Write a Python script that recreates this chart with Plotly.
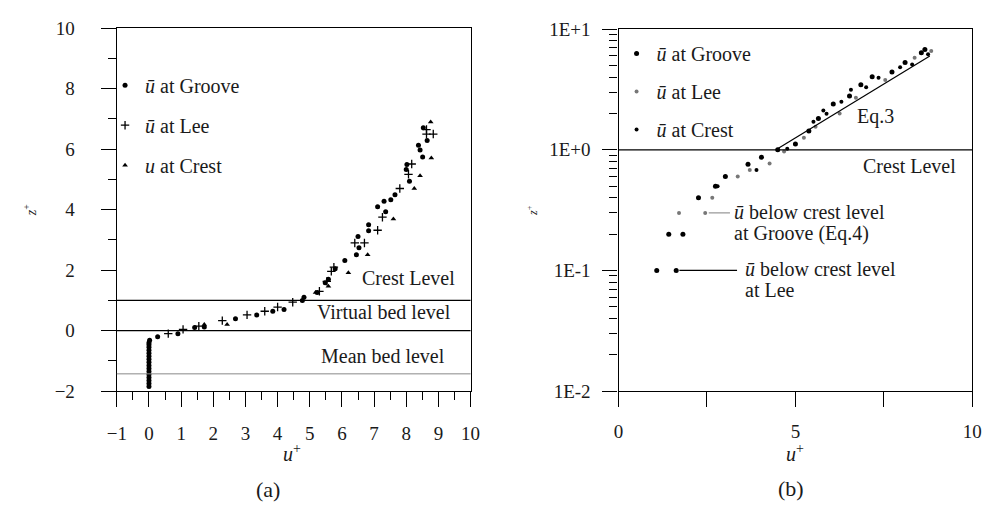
import plotly.graph_objects as go

# ---------------- data: panel (a) ----------------
a_groove_x = [0, 0, 0, 0, 0, 0, 0, 0, 0, 0, 0, 0, 0, 0, 0, 0, 0.02,
              0.27, 0.9, 1.42, 1.72, 2.69, 3.35, 3.85, 4.2, 4.77, 4.82, 5.23, 5.48, 5.58,
              5.79, 6.09, 6.45, 6.5, 6.53, 6.83, 6.83, 7.11, 7.31, 7.36, 7.52, 7.65,
              8.02, 8.0, 8.1, 8.38, 8.43, 8.53, 8.65, 8.51]
a_groove_y = [-1.85, -1.75, -1.65, -1.55, -1.45, -1.35, -1.25, -1.15, -1.05, -0.95, -0.85,
              -0.75, -0.65, -0.55, -0.47, -0.4, -0.32,
              -0.2, -0.1, 0.1, 0.12, 0.39, 0.52, 0.64, 0.7, 1.0, 1.1, 1.26, 1.58, 1.7,
              2.05, 2.32, 2.51, 3.11, 2.74, 3.5, 3.3, 4.1, 4.28, 3.93, 4.33, 4.49,
              5.49, 5.33, 4.94, 6.13, 5.97, 6.71, 6.29, 5.74]
a_lee_x = [0.6, 1.06, 1.55, 2.28, 3.05, 3.6, 4.0, 4.47, 5.3, 5.53, 5.67, 5.75, 6.4, 6.7,
           7.26, 7.11, 7.8, 8.07, 8.17, 8.63, 8.63, 8.84]
a_lee_y = [-0.1, 0.04, 0.15, 0.33, 0.52, 0.64, 0.78, 0.94, 1.3, 1.63, 1.96, 2.1, 2.9, 2.9,
           3.75, 3.32, 4.7, 5.17, 5.51, 6.65, 6.5, 6.5]
a_crest_x = [1.72, 2.43, 5.18, 5.58, 6.2, 6.8, 7.6, 8.25, 8.43, 8.78, 8.76]
a_crest_y = [0.2, 0.2, 1.26, 1.47, 1.91, 2.51, 3.69, 4.7, 5.12, 5.71, 6.9]

a_levels = [1.0, 0.0, -1.43]          # crest, virtual bed, mean bed
a_level_names = ["Crest Level", "Virtual bed level", "Mean bed level"]

# ---------------- data: panel (b) ----------------
b_groove_x = [1.08, 1.63, 1.42, 1.82, 2.26, 2.74, 3.02, 3.66, 4.04, 4.5, 5.0, 5.38, 5.65,
              6.07, 6.53, 6.85, 7.17, 7.73, 8.1, 8.56, 8.66]
b_groove_y = [0.1, 0.1, 0.2, 0.2, 0.4, 0.5, 0.6, 0.76, 0.87, 1.0, 1.12, 1.43, 1.82,
              2.4, 2.79, 3.46, 4.03, 4.42, 5.3, 6.37, 6.8]
b_lee_x = [1.71, 2.45, 2.65, 3.37, 3.71, 4.27, 4.68, 5.24, 5.57, 6.25, 6.71, 7.54, 8.37, 8.84]
b_lee_y = [0.3, 0.3, 0.4, 0.6, 0.68, 0.77, 0.97, 1.26, 1.55, 2.0, 2.7, 3.79, 5.8, 6.6]
b_crest_x = [2.8, 3.9, 4.77, 5.51, 5.88, 5.79, 6.57, 7.35, 7.96, 8.3, 8.75, 7.0, 6.3]
b_crest_y = [0.5, 0.68, 1.02, 1.71, 1.99, 2.12, 3.15, 3.95, 4.84, 5.1, 6.2, 3.3, 2.5]

eq3_x = [4.45, 8.8]
eq3_y = [1.0, 6.0]
lee_leader_x = [1.72, 3.35]
lee_leader_y = [0.1, 0.1]
groove_leader_x = [2.55, 3.15]
groove_leader_y = [0.3, 0.3]

b_decades = [0.01, 0.1, 1, 10]
b_decade_labels = ["1E-2", "1E-1", "1E+0", "1E+1"]
b_xticks = [0, 5, 10]
b_xlabels = ["0", "5", "10"]
b_xminor = [2.5, 7.5]

FONT = "'Liberation Serif', 'Times New Roman', Times, serif"
W, H = 996, 524
TXT = "#1a1a1a"

fig = go.Figure()

def sc(x, y, name, symbol, size, color, xa, ya, leg, grp, lw=0):
    fig.add_trace(go.Scatter(
        x=x, y=y, mode="markers", name=name, xaxis=xa, yaxis=ya,
        legend=leg, legendgroup=grp,
        marker=dict(symbol=symbol, size=size, color=color,
                    line=dict(width=lw, color=color))))

# panel (a)
sc(a_groove_x, a_groove_y, "<i>ū</i> at Groove", "circle", 5, "black", "x", "y", "legend", "ag")
sc(a_lee_x, a_lee_y, "<i>ū</i> at Lee", "cross-thin", 6, "black", "x", "y", "legend", "al", lw=1.3)
sc(a_crest_x, a_crest_y, "<i>u</i> at Crest", "triangle-up", 5, "black", "x", "y", "legend", "ac")

# panel (b)
sc(b_groove_x, b_groove_y, "<i>ū</i> at Groove", "circle", 5, "black", "x2", "y2", "legend2", "bg")
sc(b_lee_x, b_lee_y, "<i>ū</i> at Lee", "circle", 4, "#777777", "x2", "y2", "legend2", "bl")
sc(b_crest_x, b_crest_y, "<i>ū</i> at Crest", "circle", 4, "black", "x2", "y2", "legend2", "bc")

for lx, ly, col in [(eq3_x, eq3_y, "black"), (lee_leader_x, lee_leader_y, "black"),
                    (groove_leader_x, groove_leader_y, "#999999")]:
    fig.add_trace(go.Scatter(x=lx, y=ly, mode="lines", xaxis="x2", yaxis="y2",
                             showlegend=False, line=dict(color=col, width=1.2)))

# level lines in panel (a)
for lv, col in zip(a_levels, ["black", "black", "#888888"]):
    fig.add_shape(type="line", xref="x domain", yref="y", x0=0, x1=1, y0=lv, y1=lv,
                  line=dict(color=col, width=1.3 if col == "black" else 1))
fig.add_shape(type="line", xref="x2 domain", yref="y2", x0=0, x1=1, y0=1, y1=1,
              line=dict(color="black", width=1.3))

tickfont = dict(family=FONT, size=19, color=TXT)
axcommon = dict(showline=True, linecolor="black", linewidth=1.3, mirror=True,
                showgrid=False, zeroline=False, ticks="outside", ticklen=15,
                tickcolor="black", tickwidth=1.3, tickfont=tickfont)

def dom(p0, p1):
    return [p0 / W, p1 / W]

def vdom(top, bottom):
    return [1 - bottom / H, 1 - top / H]

fig.update_layout(
    width=W, height=H, margin=dict(l=0, r=0, t=0, b=0),
    paper_bgcolor="white", plot_bgcolor="white",
    xaxis=dict(domain=dom(109, 470), range=[-1, 10], dtick=1, anchor="y",
               minor=dict(ticks="outside", ticklen=8, dtick=0.5, tickcolor="black", tickwidth=1.3),
               ticklabelstandoff=10, **axcommon),
    yaxis=dict(domain=vdom(19, 397), range=[-2, 10], dtick=2, anchor="x",
               minor=dict(ticks="outside", ticklen=8, dtick=1, tickcolor="black", tickwidth=1.3),
               ticklabelstandoff=22, **axcommon),
    xaxis2=dict(domain=dom(621, 982), range=[0, 10], tickvals=b_xticks, ticktext=b_xlabels,
                minor=dict(ticks="outside", ticklen=15, tickvals=b_xminor,
                           tickcolor="black", tickwidth=1.3),
                anchor="y2", ticklabelstandoff=8, **axcommon),
    yaxis2=dict(domain=vdom(20, 397), type="log", range=[-2, 1], tickvals=b_decades,
                ticktext=b_decade_labels, anchor="x2", ticklabelstandoff=8,
                minor=dict(ticks="outside", ticklen=8, tickcolor="black", tickwidth=1.3,
                           tickvals=[m * d for d in b_decades[:-1] for m in range(2, 10)]),
                **axcommon),
    legend=dict(x=97 / W, y=1 - 58 / H, xanchor="left", yanchor="top",
                bgcolor="rgba(0,0,0,0)", tracegroupgap=11, itemsizing="trace",
                font=dict(family=FONT, size=20, color=TXT)),
    legend2=dict(x=619 / W, y=1 - 25 / H, xanchor="left", yanchor="top",
                 bgcolor="rgba(0,0,0,0)", tracegroupgap=9, itemsizing="trace",
                 font=dict(family=FONT, size=20, color=TXT)),
    showlegend=True,
)

anns = []
def txt(x, y, text, size=20, xanchor="center", angle=0):
    anns.append(dict(x=x, y=y, xref="paper", yref="paper", text=text, showarrow=False,
                     xanchor=xanchor, yanchor="middle", textangle=angle,
                     font=dict(family=FONT, size=size, color=TXT)))

# panel (a) level labels (paper coords derived from pixel reading)
txt(407 / W, 1 - 279 / H, a_level_names[0])
txt(382 / W, 1 - 315 / H, a_level_names[1])
txt(381 / W, 1 - 360 / H, a_level_names[2])
# panel (b) labels
txt(862 / W, 1 - 111 / H, "Eq.3", xanchor="left")
txt(918 / W, 1 - 163 / H, "Crest Level")
txt(737 / W, 1 - 210 / H, "<i>ū</i> below crest level", xanchor="left")
txt(737 / W, 1 - 233 / H, "at Groove (Eq.4)", xanchor="left")
txt(748 / W, 1 - 270 / H, "<i>ū</i> below crest level", xanchor="left")
txt(748 / W, 1 - 292 / H, "at Lee", xanchor="left")
# axis titles
txt(288 / W, 1 - 461 / H, "<i>u</i><sup>+</sup>")
txt(801 / W, 1 - 461 / H, "<i>u</i><sup>+</sup>")
txt(20 / W, 1 - 209 / H, "<i>z</i><sup>+</sup>", size=14, angle=-90)
txt(533 / W, 1 - 209 / H, "<i>z</i><sup>+</sup>", size=12, angle=-90)
# sub-captions
txt(263 / W, 1 - 499 / H, "(a)", size=22)
txt(797 / W, 1 - 498 / H, "(b)", size=22)
fig.update_layout(annotations=anns)

fig.write_html("out.html")
